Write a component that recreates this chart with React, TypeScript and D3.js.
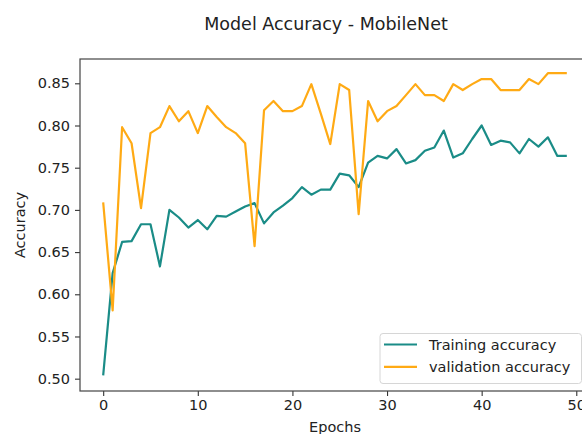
import React, { useEffect, useRef } from "react";
import * as d3 from "d3";

// one value per epoch (0..49)
const epochs = d3.range(0, 50);

const trainingAcc = [
  0.504, 0.625, 0.662, 0.663, 0.683, 0.683, 0.633, 0.700, 0.691, 0.679,
  0.688, 0.677, 0.693, 0.692, 0.698, 0.704, 0.708, 0.684, 0.697, 0.705,
  0.714, 0.727, 0.718, 0.724, 0.724, 0.743, 0.741, 0.727, 0.756, 0.764,
  0.761, 0.772, 0.755, 0.759, 0.770, 0.774, 0.794, 0.762, 0.767, 0.784,
  0.800, 0.777, 0.782, 0.780, 0.767, 0.784, 0.775, 0.786, 0.764, 0.764,
];

const validationAcc = [
  0.709, 0.581, 0.798, 0.779, 0.702, 0.791, 0.798, 0.823, 0.805, 0.817,
  0.791, 0.823, 0.810, 0.798, 0.791, 0.779, 0.657, 0.818, 0.829, 0.817,
  0.817, 0.823, 0.849, 0.814, 0.778, 0.849, 0.842, 0.695, 0.829, 0.805,
  0.817, 0.823, 0.836, 0.849, 0.836, 0.836, 0.829, 0.849, 0.842, 0.849,
  0.855, 0.855, 0.842, 0.842, 0.842, 0.855, 0.849, 0.862, 0.862, 0.862,
];

const xTicks = [0, 10, 20, 30, 40, 50];
const yTicks = [0.5, 0.55, 0.6, 0.65, 0.7, 0.75, 0.8, 0.85];

const seriesNames = ["Training accuracy", "validation accuracy"];
const seriesColors = ["#1a8c87", "#ffaa14"];

export default function App() {
  const svgRef = useRef<SVGSVGElement>(null);

  useEffect(() => {
    if (!svgRef.current) return;
    const root = d3.select(svgRef.current);
    root.selectAll("*").remove();

    const width = 582;
    const height = 434;
    // axes box (the right side runs past the picture, as in the reference)
    const left = 80;
    const right = 590;
    const top = 59;
    const bottom = 391;
    const font = "'DejaVu Sans', sans-serif";

    root.attr("width", width).attr("height", height);

    const x = d3.scaleLinear().domain([-2.45, 51.45]).range([left, right]);
    const y = d3.scaleLinear().domain([0.4854, 0.8788]).range([bottom, top]);

    root
      .append("defs")
      .append("clipPath")
      .attr("id", "plot-clip")
      .append("rect")
      .attr("x", left)
      .attr("y", top)
      .attr("width", right - left)
      .attr("height", bottom - top);

    // title
    root
      .append("text")
      .attr("x", 326)
      .attr("y", 30)
      .attr("text-anchor", "middle")
      .attr("font-family", font)
      .attr("font-size", 17.5)
      .attr("fill", "#222")
      .text("Model Accuracy - MobileNet");

    // lines
    const line = d3
      .line<number>()
      .x((_, i) => x(epochs[i]))
      .y((d) => y(d));

    const plot = root.append("g").attr("clip-path", "url(#plot-clip)");
    [trainingAcc, validationAcc].forEach((values, i) => {
      plot
        .append("path")
        .datum(values)
        .attr("d", line)
        .attr("fill", "none")
        .attr("stroke", seriesColors[i])
        .attr("stroke-width", 2.2)
        .attr("stroke-linejoin", "round");
    });

    // x-axis
    const xAxis = root
      .append("g")
      .attr("transform", `translate(0,${bottom})`)
      .call(d3.axisBottom(x).tickValues(xTicks).tickFormat(d3.format("d")).tickSize(5).tickPadding(4).tickSizeOuter(0));
    xAxis.selectAll("text").style("font-size", "14.5px").style("font-family", font).style("fill", "#222");

    // y-axis
    const yAxis = root
      .append("g")
      .attr("transform", `translate(${left},0)`)
      .call(d3.axisLeft(y).tickValues(yTicks).tickFormat(d3.format(".2f")).tickSize(5).tickPadding(5).tickSizeOuter(0));
    yAxis.selectAll("text").style("font-size", "14.5px").style("font-family", font).style("fill", "#222");

    root.selectAll(".domain").remove();
    root.selectAll(".tick line").attr("stroke", "#333").attr("stroke-width", 1.1);

    // spines
    root
      .append("rect")
      .attr("x", left)
      .attr("y", top)
      .attr("width", right - left)
      .attr("height", bottom - top)
      .attr("fill", "none")
      .attr("stroke", "#444")
      .attr("stroke-width", 1.2);

    // axis labels
    root
      .append("text")
      .attr("x", (left + right) / 2)
      .attr("y", 432)
      .attr("text-anchor", "middle")
      .attr("font-family", font)
      .attr("font-size", 14.5)
      .attr("fill", "#222")
      .text("Epochs");

    root
      .append("text")
      .attr("transform", `translate(25,${(top + bottom) / 2}) rotate(-90)`)
      .attr("text-anchor", "middle")
      .attr("font-family", font)
      .attr("font-size", 14.5)
      .attr("fill", "#222")
      .text("Accuracy");

    // legend
    const legend = root.append("g");
    legend
      .append("rect")
      .attr("x", 380)
      .attr("y", 333.5)
      .attr("width", 201.5)
      .attr("height", 50)
      .attr("rx", 3)
      .attr("fill", "white")
      .attr("fill-opacity", 0.8)
      .attr("stroke", "#d6d6d6")
      .attr("stroke-width", 1);

    seriesNames.forEach((name, i) => {
      const ly = 344.5 + i * 22.3;
      legend
        .append("line")
        .attr("x1", 384)
        .attr("x2", 417)
        .attr("y1", ly)
        .attr("y2", ly)
        .attr("stroke", seriesColors[i])
        .attr("stroke-width", 2.2);
      legend
        .append("text")
        .attr("x", 429)
        .attr("y", ly + 5)
        .attr("font-family", font)
        .attr("font-size", 14.5)
        .attr("fill", "#222")
        .text(name);
    });
  }, []);

  return (
    <div style={{ position: "absolute", left: 0, top: 0, width: 582, height: 434, overflow: "hidden", background: "white" }}>
      <svg ref={svgRef} style={{ display: "block" }} />
    </div>
  );
}
